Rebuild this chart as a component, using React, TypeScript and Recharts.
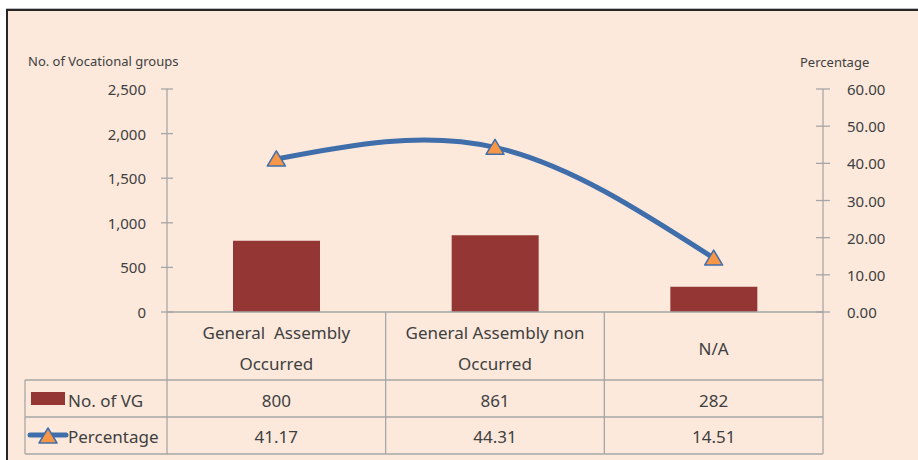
import React from "react";
import {
    ComposedChart,
    Bar,
    Line,
    XAxis,
    YAxis,
} from "recharts";

const categories = ["General  Assembly Occurred", "General Assembly non Occurred", "N/A"];
const categoryLines = [["General  Assembly", "Occurred"], ["General Assembly non", "Occurred"], ["N/A"]];
const vgCounts = [800, 861, 282];
const percentages = [41.17, 44.31, 14.51];
const leftTicks = [0, 500, 1000, 1500, 2000, 2500];
const rightTicks = [0, 10, 20, 30, 40, 50, 60];

const data = categories.map((name, i) => ({
    name,
    vg: vgCounts[i],
    pct: percentages[i],
}));

const FONT = "'Noto Sans', sans-serif";
const TEXT = "#404040";
const GRID = "#a6a6a6";
const BAR = "#943634";
const LINE = "#3f6eaa";
const TRI = "#f79646";

// plot geometry (px)
const PLOT_L = 167;
const PLOT_R = 823;
const PLOT_T = 89;
const PLOT_B = 312;
const BAND = (PLOT_R - PLOT_L) / categories.length;
const ROW1 = 380;
const ROW2 = 417;
const ROW3 = 454;
const TABLE_L = 25;

const triangle = (cx: number, cy: number, key?: any) => (
    <polygon
        key={key}
        points={`${cx},${cy - 8} ${cx + 9},${cy + 7} ${cx - 9},${cy + 7}`}
        fill={TRI}
        stroke={LINE}
        strokeWidth={1.5}
        strokeLinejoin="round"
    />
);

const TriangleDot = (props: any) => {
    const { cx, cy, index } = props;
    if (cx == null || cy == null) return null;
    return triangle(cx, cy, `tri-${index}`);
};

const LeftTick = (props: any) => {
    const { y, payload } = props;
    return (
        <g>
            <line x1={PLOT_L - 6} x2={PLOT_L + 6} y1={y} y2={y} stroke={GRID} strokeWidth={1.3} />
            <text x={146} y={y} textAnchor="end" dominantBaseline="central" fill={TEXT} fontSize={15} fontFamily={FONT}>
                {Number(payload.value).toLocaleString("en-US")}
            </text>
        </g>
    );
};

const RightTick = (props: any) => {
    const { y, payload } = props;
    return (
        <g>
            <line x1={PLOT_R - 7} x2={PLOT_R + 7} y1={y} y2={y} stroke={GRID} strokeWidth={1.3} />
            <text x={847} y={y} textAnchor="start" dominantBaseline="central" fill={TEXT} fontSize={15} fontFamily={FONT}>
                {Number(payload.value).toFixed(2)}
            </text>
        </g>
    );
};

// category labels + data table under the axis
const TableTick = (props: any) => {
    const { x, index } = props;
    const left = x - BAND / 2;
    const right = x + BAND / 2;
    const lines = categoryLines[index] || [];
    const last = index === categories.length - 1;
    return (
        <g fontFamily={FONT} fill={TEXT}>
            <line x1={left} x2={left} y1={PLOT_B} y2={ROW3} stroke={GRID} strokeWidth={1.3} />
            {last && <line x1={right} x2={right} y1={PLOT_B} y2={ROW3} stroke={GRID} strokeWidth={1.3} />}
            <line x1={left} x2={right} y1={ROW1} y2={ROW1} stroke={GRID} strokeWidth={1.3} />
            <line x1={left} x2={right} y1={ROW2} y2={ROW2} stroke={GRID} strokeWidth={1.3} />
            <line x1={left} x2={right} y1={ROW3} y2={ROW3} stroke={GRID} strokeWidth={1.3} />
            {lines.length === 1 ? (
                <text x={x} y={348} textAnchor="middle" dominantBaseline="central" fontSize={17}>
                    {lines[0]}
                </text>
            ) : (
                lines.map((l, i) => (
                    <text key={i} x={x} y={332 + i * 31} textAnchor="middle" dominantBaseline="central" fontSize={17} style={{ whiteSpace: "pre" }}>
                        {l}
                    </text>
                ))
            )}
            <text x={x} y={400} textAnchor="middle" dominantBaseline="central" fontSize={17}>
                {vgCounts[index]}
            </text>
            <text x={x} y={436} textAnchor="middle" dominantBaseline="central" fontSize={17}>
                {percentages[index].toFixed(2)}
            </text>
            {index === 0 && (
                <g>
                    <line x1={TABLE_L} x2={left} y1={ROW1} y2={ROW1} stroke={GRID} strokeWidth={1.3} />
                    <line x1={TABLE_L} x2={left} y1={ROW2} y2={ROW2} stroke={GRID} strokeWidth={1.3} />
                    <line x1={TABLE_L} x2={left} y1={ROW3} y2={ROW3} stroke={GRID} strokeWidth={1.3} />
                    <line x1={TABLE_L} x2={TABLE_L} y1={ROW1} y2={ROW3} stroke={GRID} strokeWidth={1.3} />
                    <rect x={31} y={392} width={34} height={13} fill={BAR} />
                    <text x={68} y={400} dominantBaseline="central" fontSize={17}>No. of VG</text>
                    <line x1={30} x2={66} y1={435} y2={435} stroke={LINE} strokeWidth={5} strokeLinecap="round" />
                    {triangle(48, 436)}
                    <text x={68} y={436} dominantBaseline="central" fontSize={17}>Percentage</text>
                </g>
            )}
        </g>
    );
};

const LeftTitle = () => (
    <text x={28} y={61} dominantBaseline="central" fill={TEXT} fontSize={13} fontFamily={FONT}>
        No. of Vocational groups
    </text>
);

const RightTitle = () => (
    <text x={800} y={62} dominantBaseline="central" fill={TEXT} fontSize={13} fontFamily={FONT}>
        Percentage
    </text>
);

export default function App() {
    return (
        <div style={{ position: "absolute", left: 0, top: 0, width: 918, height: 460, background: "#fff", overflow: "hidden" }}>
            <div
                style={{
                    position: "absolute",
                    left: 6,
                    top: 9,
                    right: -4,
                    bottom: -4,
                    background: "#fce9dc",
                    borderTop: "2px solid #262626",
                    borderLeft: "2px solid #262626",
                    boxShadow: "0 -1px 0 #bfbfbf",
                }}
            />
            <div style={{ position: "absolute", left: 0, top: 0 }}>
                <ComposedChart
                    width={918}
                    height={460}
                    data={data}
                    margin={{ top: PLOT_T, right: 0, bottom: 0, left: 0 }}
                    barCategoryGap="30%"
                >
                    <XAxis
                        dataKey="name"
                        height={460 - PLOT_B}
                        axisLine={{ stroke: GRID, strokeWidth: 1.3 }}
                        tickLine={false}
                        tick={<TableTick />}
                        interval={0}
                    />
                    <YAxis
                        yAxisId="left"
                        width={PLOT_L}
                        domain={[0, 2500]}
                        ticks={leftTicks}
                        axisLine={{ stroke: GRID, strokeWidth: 1.3 }}
                        tickLine={false}
                        tick={<LeftTick />}
                        label={{ content: () => <LeftTitle /> }}
                    />
                    <YAxis
                        yAxisId="right"
                        orientation="right"
                        width={918 - PLOT_R}
                        domain={[0, 60]}
                        ticks={rightTicks}
                        axisLine={{ stroke: GRID, strokeWidth: 1.3 }}
                        tickLine={false}
                        tick={<RightTick />}
                        label={{ content: () => <RightTitle /> }}
                    />
                    <Bar yAxisId="left" dataKey="vg" fill={BAR} barSize={87} isAnimationActive={false} />
                    <Line
                        yAxisId="right"
                        dataKey="pct"
                        type="natural"
                        stroke={LINE}
                        strokeWidth={5}
                        dot={<TriangleDot />}
                        activeDot={false}
                        isAnimationActive={false}
                    />
                </ComposedChart>
            </div>
        </div>
    );
}
